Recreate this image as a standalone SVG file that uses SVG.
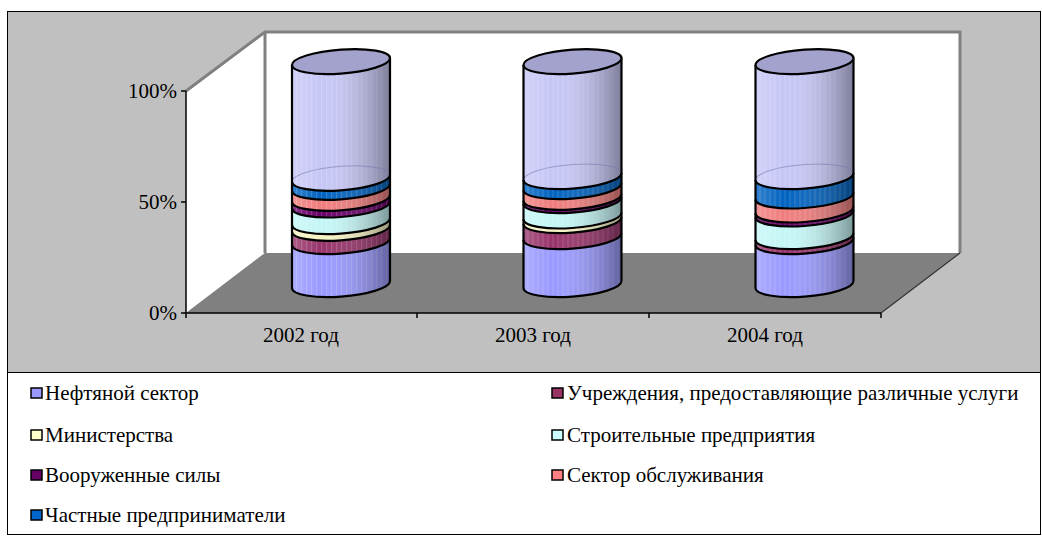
<svg xmlns="http://www.w3.org/2000/svg" width="1042" height="537" viewBox="0 0 1042 537">
<defs>
<style>
.edge{stroke:#000;stroke-width:2.2;fill:none;stroke-linejoin:round}
.back{stroke:#7878b0;stroke-width:1;fill:none;opacity:.6}
.top{fill:#a2a2cc;stroke:#000;stroke-width:2.2}
.pale{fill:#c6c6f6}
.blue{fill:#0062c0}
.salmon{fill:#f07c7c}
.purple{fill:#6a006a}
.cyan{fill:#c4f6f6}
.yellow{fill:#f6f2c2}
.maroon{fill:#97336a}
.base{fill:#9999ff}
.sw{stroke:#000;stroke-width:1.5}
</style>
<linearGradient id="shade" x1="0" y1="0" x2="1" y2="0">
<stop offset="0" stop-color="#fff" stop-opacity="0.2"/>
<stop offset="0.3" stop-color="#fff" stop-opacity="0"/>
<stop offset="1" stop-color="#000" stop-opacity="0.38"/>
</linearGradient>
<pattern id="stripes" width="5" height="10" patternUnits="userSpaceOnUse">
<rect x="0" y="0" width="1" height="10" fill="#fff" opacity="0.18"/>
</pattern>
</defs>
<g id="chart-area">
<rect x="7.5" y="11.5" width="1033" height="523" fill="#c0c0c0" stroke="#000" stroke-width="1"/>
</g>
<g id="walls">
<polygon points="186,91 265,32 265,253 186,313" fill="#fff"/>
<rect x="265" y="32" width="695" height="221" fill="#fff"/>
<polygon points="186,313 265,253 960,253 881,313" fill="#808080"/>
<polyline points="186,91 265,32 960,32 960,253" fill="none" stroke="#808080" stroke-width="3"/>
<line x1="265" y1="32" x2="265" y2="253" stroke="#808080" stroke-width="3"/>
<line x1="881" y1="313" x2="960" y2="253" stroke="#333" stroke-width="1.2"/>
</g>
<g id="axes" font-family="'Liberation Serif', 'Times New Roman', serif" font-size="21" fill="#000">
<line x1="186" y1="91" x2="186" y2="313" stroke="#000" stroke-width="1.5"/>
<line x1="186" y1="313" x2="881" y2="313" stroke="#000" stroke-width="1.5"/>
<path d="M181 91H186M181 202H186M181 313H186M186 313V318M417 313V318M649 313V318M881 313V318" stroke="#000" stroke-width="1.5"/>
<text x="177" y="98" text-anchor="end">100%</text>
<text x="177" y="209" text-anchor="end">50%</text>
<text x="177" y="320" text-anchor="end">0%</text>
<text x="301" y="342" text-anchor="middle">2002 год</text>
<text x="533" y="342" text-anchor="middle">2003 год</text>
<text x="765" y="342" text-anchor="middle">2004 год</text>
</g>
<g id="bar-2002" transform="translate(341,0) skewY(-4)">
<path class="pale" d="M-49 61.6V178.3A49 12 0 0 0 49 178.3V61.6Z"/>
<path class="blue" d="M-49 178.3A49 12 0 0 0 49 178.3V187.3A49 12 0 0 1 -49 187.3Z"/>
<path class="salmon" d="M-49 187.3A49 12 0 0 0 49 187.3V198.3A49 12 0 0 1 -49 198.3Z"/>
<path class="purple" d="M-49 198.3A49 12 0 0 0 49 198.3V205A49 12 0 0 1 -49 205Z"/>
<path class="cyan" d="M-49 205A49 12 0 0 0 49 205V221.6A49 12 0 0 1 -49 221.6Z"/>
<path class="yellow" d="M-49 221.6A49 12 0 0 0 49 221.6V228.3A49 12 0 0 1 -49 228.3Z"/>
<path class="maroon" d="M-49 228.3A49 12 0 0 0 49 228.3V241.6A49 12 0 0 1 -49 241.6Z"/>
<path class="base" d="M-49 241.6A49 12 0 0 0 49 241.6V284.6A49 12 0 0 1 -49 284.6Z"/>
<path d="M-49 61.6V284.6A49 12 0 0 0 49 284.6V61.6Z" fill="url(#stripes)"/>
<path d="M-49 61.6V284.6A49 12 0 0 0 49 284.6V61.6Z" fill="url(#shade)"/>
<path class="back" d="M-49 178.3A49 12 0 0 1 49 178.3"/>
<path class="edge" d="M-49 178.3A49 12 0 0 0 49 178.3M-49 187.3A49 12 0 0 0 49 187.3M-49 198.3A49 12 0 0 0 49 198.3M-49 205A49 12 0 0 0 49 205M-49 221.6A49 12 0 0 0 49 221.6M-49 228.3A49 12 0 0 0 49 228.3M-49 241.6A49 12 0 0 0 49 241.6"/>
<path class="edge" d="M-49 61.6V284.6A49 12 0 0 0 49 284.6V61.6"/>
<ellipse class="top" cx="0" cy="61.6" rx="49" ry="12"/>
</g>
<g id="bar-2003" transform="translate(572.5,0) skewY(-4)">
<path class="pale" d="M-49 61.6V176.6A49 12 0 0 0 49 176.6V61.6Z"/>
<path class="blue" d="M-49 176.6A49 12 0 0 0 49 176.6V186.6A49 12 0 0 1 -49 186.6Z"/>
<path class="salmon" d="M-49 186.6A49 12 0 0 0 49 186.6V197.3A49 12 0 0 1 -49 197.3Z"/>
<path class="purple" d="M-49 197.3A49 12 0 0 0 49 197.3V200.6A49 12 0 0 1 -49 200.6Z"/>
<path class="cyan" d="M-49 200.6A49 12 0 0 0 49 200.6V216A49 12 0 0 1 -49 216Z"/>
<path class="yellow" d="M-49 216A49 12 0 0 0 49 216V220.6A49 12 0 0 1 -49 220.6Z"/>
<path class="maroon" d="M-49 220.6A49 12 0 0 0 49 220.6V236.6A49 12 0 0 1 -49 236.6Z"/>
<path class="base" d="M-49 236.6A49 12 0 0 0 49 236.6V284.6A49 12 0 0 1 -49 284.6Z"/>
<path d="M-49 61.6V284.6A49 12 0 0 0 49 284.6V61.6Z" fill="url(#stripes)"/>
<path d="M-49 61.6V284.6A49 12 0 0 0 49 284.6V61.6Z" fill="url(#shade)"/>
<path class="back" d="M-49 176.6A49 12 0 0 1 49 176.6"/>
<path class="edge" d="M-49 176.6A49 12 0 0 0 49 176.6M-49 186.6A49 12 0 0 0 49 186.6M-49 197.3A49 12 0 0 0 49 197.3M-49 200.6A49 12 0 0 0 49 200.6M-49 216A49 12 0 0 0 49 216M-49 220.6A49 12 0 0 0 49 220.6M-49 236.6A49 12 0 0 0 49 236.6"/>
<path class="edge" d="M-49 61.6V284.6A49 12 0 0 0 49 284.6V61.6"/>
<ellipse class="top" cx="0" cy="61.6" rx="49" ry="12"/>
</g>
<g id="bar-2004" transform="translate(804.5,0) skewY(-4)">
<path class="pale" d="M-49 61.6V176.6A49 12 0 0 0 49 176.6V61.6Z"/>
<path class="blue" d="M-49 176.6A49 12 0 0 0 49 176.6V196A49 12 0 0 1 -49 196Z"/>
<path class="salmon" d="M-49 196A49 12 0 0 0 49 196V210A49 12 0 0 1 -49 210Z"/>
<path class="purple" d="M-49 210A49 12 0 0 0 49 210V214A49 12 0 0 1 -49 214Z"/>
<path class="cyan" d="M-49 214A49 12 0 0 0 49 214V236.6A49 12 0 0 1 -49 236.6Z"/>
<path class="maroon" d="M-49 236.6A49 12 0 0 0 49 236.6V241.6A49 12 0 0 1 -49 241.6Z"/>
<path class="base" d="M-49 241.6A49 12 0 0 0 49 241.6V284.6A49 12 0 0 1 -49 284.6Z"/>
<path d="M-49 61.6V284.6A49 12 0 0 0 49 284.6V61.6Z" fill="url(#stripes)"/>
<path d="M-49 61.6V284.6A49 12 0 0 0 49 284.6V61.6Z" fill="url(#shade)"/>
<path class="back" d="M-49 176.6A49 12 0 0 1 49 176.6"/>
<path class="edge" d="M-49 176.6A49 12 0 0 0 49 176.6M-49 196A49 12 0 0 0 49 196M-49 210A49 12 0 0 0 49 210M-49 214A49 12 0 0 0 49 214M-49 236.6A49 12 0 0 0 49 236.6M-49 241.6A49 12 0 0 0 49 241.6"/>
<path class="edge" d="M-49 61.6V284.6A49 12 0 0 0 49 284.6V61.6"/>
<ellipse class="top" cx="0" cy="61.6" rx="49" ry="12"/>
</g>
<g id="legend" font-family="'Liberation Serif', 'Times New Roman', serif" font-size="21" fill="#000">
<rect x="7.5" y="372.5" width="1033" height="162" fill="#fff" stroke="#000" stroke-width="1"/>
<g id="leg-oil"><rect class="sw" x="31" y="388" width="11" height="10" fill="#9999ff"/><text x="45" y="400">Нефтяной сектор</text></g>
<g id="leg-inst"><rect class="sw" x="552" y="388" width="11" height="10" fill="#993366"/><text x="567" y="400">Учреждения, предоставляющие различные услуги</text></g>
<g id="leg-min"><rect class="sw" x="31" y="430" width="11" height="10" fill="#ffffcc"/><text x="45" y="442">Министерства</text></g>
<g id="leg-build"><rect class="sw" x="552" y="430" width="11" height="10" fill="#ccffff"/><text x="567" y="442">Строительные предприятия</text></g>
<g id="leg-army"><rect class="sw" x="31" y="470" width="11" height="10" fill="#660066"/><text x="45" y="482">Вооруженные силы</text></g>
<g id="leg-service"><rect class="sw" x="552" y="470" width="11" height="10" fill="#ff8080"/><text x="567" y="482">Сектор обслуживания</text></g>
<g id="leg-private"><rect class="sw" x="31" y="510" width="11" height="10" fill="#0066cc"/><text x="45" y="522">Частные предприниматели</text></g>
</g>
</svg>
